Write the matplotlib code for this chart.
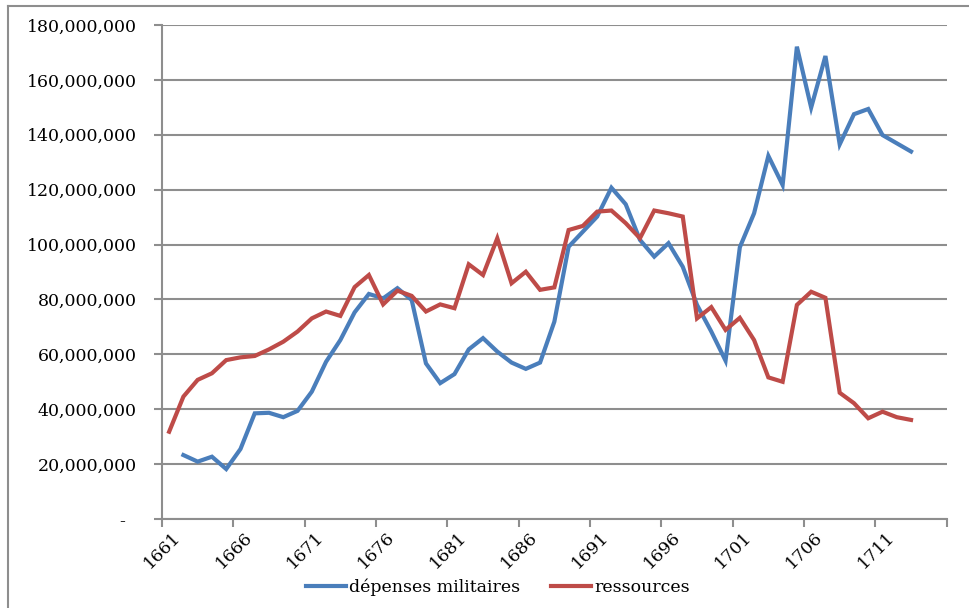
import matplotlib
matplotlib.use("Agg")
import matplotlib.pyplot as plt
from matplotlib.lines import Line2D
from matplotlib.ticker import FixedLocator, FuncFormatter
from matplotlib.transforms import ScaledTranslation

# %%
years = list(range(1661, 1714))

# dépenses militaires (pas de donnée pour 1661)
depenses = [
    None, 23.3, 20.9, 22.7, 18.2, 25.5, 38.5, 38.7, 37.1, 39.4,
    46.4, 57.3, 65.2, 75.3, 82.0, 80.4, 84.1, 79.8, 56.7, 49.5,
    52.8, 61.8, 65.9, 61.0, 57.0, 54.7, 57.0, 71.9, 99.2, 104.7,
    110.2, 120.7, 114.7, 101.7, 95.6, 100.5, 91.9, 78.0, 68.3, 57.7,
    99.0, 111.4, 132.3, 121.7, 172.1, 149.9, 168.7, 136.5, 147.5, 149.4,
    139.9, 136.9, 133.9,
]

ressources = [
    31.8, 44.6, 50.7, 53.1, 57.9, 58.9, 59.4, 61.8, 64.6, 68.3,
    73.1, 75.6, 74.0, 84.5, 88.9, 78.2, 83.2, 81.3, 75.6, 78.2,
    76.8, 92.8, 88.9, 102.3, 85.9, 90.1, 83.5, 84.4, 105.3, 106.8,
    112.0, 112.4, 107.8, 102.3, 112.4, 111.4, 110.2, 73.1, 77.2, 68.9,
    73.3, 65.2, 51.6, 50.0, 78.0, 82.8, 80.6, 46.0, 42.2, 36.7,
    39.1, 37.1, 36.1,
]

yticks = list(range(0, 180_000_001, 20_000_000))
xlabels = list(range(1661, 1712, 5))

BLUE = "#4a7ebb"
RED = "#be4b48"
GRID = "#8e8e8e"

# %%
plt.rcParams["font.family"] = ["DejaVu Serif"]
plt.rcParams["font.size"] = 12.5

fig = plt.figure(figsize=(9.7, 6.08), dpi=100)
ax = fig.add_axes([162 / 970, 1 - 519 / 608, (946.7 - 162) / 970, (519 - 25) / 608])

dep_x = [y for y, v in zip(years, depenses) if v is not None]
dep_y = [v * 1e6 for v in depenses if v is not None]
res_y = [v * 1e6 for v in ressources]

ax.plot(dep_x, dep_y, color=BLUE, lw=3, solid_joinstyle="miter", label="dépenses militaires")
ax.plot(years, res_y, color=RED, lw=3, solid_joinstyle="miter", label="ressources")

ax.set_xlim(1660.5, 1715.5)
ax.set_ylim(0, 180_000_000)

ax.yaxis.set_major_locator(FixedLocator(yticks))
ax.yaxis.set_major_formatter(FuncFormatter(lambda v, p: "-  " if v == 0 else f"{v:,.0f}"))
ax.grid(axis="y", color=GRID, lw=1.5)
ax.set_axisbelow(True)

ax.xaxis.set_major_locator(FixedLocator(xlabels))
ax.xaxis.set_minor_locator(FixedLocator([1660.5 + 5 * k for k in range(12)]))
ax.tick_params(axis="x", which="major", length=0, pad=7)
ax.tick_params(axis="x", which="minor", length=6, width=1.5, color=GRID)
ax.tick_params(axis="y", length=6, width=1.5, color=GRID, pad=12)
shift = ScaledTranslation(3 / 100, 0, fig.dpi_scale_trans)
for lbl in ax.get_xticklabels():
    lbl.set_rotation(45)
    lbl.set_ha("right")
    lbl.set_va("top")
    lbl.set_rotation_mode("anchor")
    lbl.set_transform(lbl.get_transform() + shift)

for s in ["top", "right"]:
    ax.spines[s].set_visible(False)
for s in ["left", "bottom"]:
    ax.spines[s].set_color(GRID)
    ax.spines[s].set_linewidth(1.5)

# cadre du graphique
fig.add_artist(Line2D([8 / 970, 8 / 970], [0, 1 - 6 / 608], color=GRID, lw=1.5))
fig.add_artist(Line2D([8 / 970, 1], [1 - 6 / 608, 1 - 6 / 608], color=GRID, lw=1.5))

fig.legend(
    loc="center",
    bbox_to_anchor=(498 / 970, 1 - 587 / 608),
    ncol=2,
    frameon=False,
    handlelength=2.3,
    handletextpad=0.15,
    columnspacing=1.8,
)

fig.savefig("out.png", dpi=100)
